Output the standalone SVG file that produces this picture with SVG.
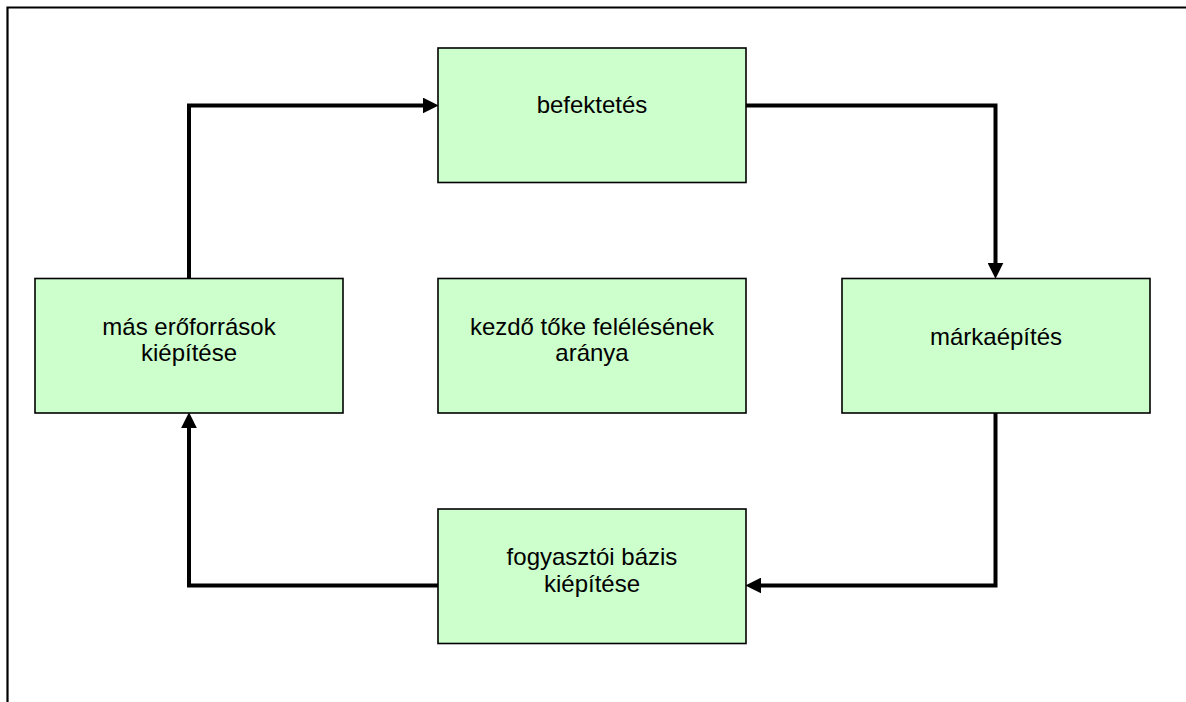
<svg xmlns="http://www.w3.org/2000/svg" width="1186" height="702" viewBox="0 0 1186 702">
<style>
.box{fill:#CCFFCC;stroke:#000;stroke-width:1.6}
.lbl{font-family:"Liberation Sans",Arial,sans-serif;font-size:24px;fill:#000;text-anchor:middle}
.con{fill:none;stroke:#000;stroke-width:4;stroke-linejoin:miter;marker-end:url(#ah)}
.frame{stroke:#000;stroke-width:2.2;fill:none}
</style>
<defs>
<marker id="ah" markerUnits="userSpaceOnUse" markerWidth="16" markerHeight="16" viewBox="0 0 15 15" refX="5" refY="7.5" orient="auto">
<path d="M0,0 L15,7.5 L0,15 Z" fill="#000"/>
</marker>
</defs>
<rect width="1186" height="702" fill="#fff"/>
<g id="frame">
<path class="frame" d="M7.5,702 V7.5 H1186"/>
</g>
<g id="connectors">
<path class="con" d="M189,278 V105.5 H428"/>
<path class="con" d="M746,105.5 H995.5 V268"/>
<path class="con" d="M995.5,413 V585.5 H756"/>
<path class="con" d="M438,585.5 H189 V423"/>
</g>
<g id="befektetes">
<rect class="box" x="438" y="48" width="308" height="134.5"/>
<text class="lbl" x="592" y="113">befektetés</text>
</g>
<g id="markaepites">
<rect class="box" x="842" y="278.5" width="308" height="134.5"/>
<text class="lbl" x="996" y="345">márkaépítés</text>
</g>
<g id="fogyasztoi">
<rect class="box" x="438" y="509" width="308" height="134.5"/>
<text class="lbl" x="592" y="565">fogyasztói bázis</text>
<text class="lbl" x="592" y="592">kiépítése</text>
</g>
<g id="mas-eroforrasok">
<rect class="box" x="35" y="278.5" width="308" height="134.5"/>
<text class="lbl" x="189" y="335">más erőforrások</text>
<text class="lbl" x="189" y="361">kiépítése</text>
</g>
<g id="kezdo-toke">
<rect class="box" x="438" y="278.5" width="308" height="134.5"/>
<text class="lbl" x="592" y="335">kezdő tőke felélésének</text>
<text class="lbl" x="592" y="361">aránya</text>
</g>
</svg>
